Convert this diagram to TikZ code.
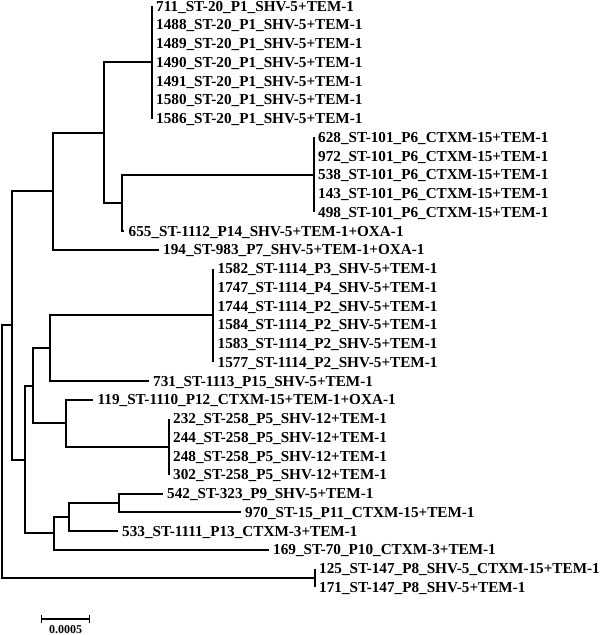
\documentclass[tikz,border=0pt]{standalone}
\usepackage{fontspec}
\setmainfont{Liberation Serif}
\usetikzlibrary{arrows.meta}

\tikzset{
    branch/.style={line width=2pt},
    leaf/.style={anchor=west, inner xsep=4.5pt, inner ysep=0pt, text height=10pt, text depth=0pt,
        font=\fontsize{15.2}{18}\selectfont\bfseries},
}

\begin{document}
\begin{tikzpicture}[x=1pt, y=-1pt]
    \useasboundingbox (0,0) rectangle (600,635);
    \def\rowh{18.75}
    % ST-20 clade (zero-length leaves)
    \foreach \id [count=\i from 0] in {711,1488,1489,1490,1491,1580,1586} {
        \pgfmathsetmacro{\y}{6+\rowh*\i}
        \node[leaf] (s\id) at (151.5,\y) {\id\_ST-20\_P1\_SHV-5+TEM-1};
    }
    % ST-101 clade
    \foreach \id [count=\i from 7] in {628,972,538,143,498} {
        \pgfmathsetmacro{\y}{6+\rowh*\i}
        \node[leaf] (s\id) at (313.5,\y) {\id\_ST-101\_P6\_CTXM-15+TEM-1};
    }
    \node[leaf] (s655) at (124,{6+\rowh*12}) {655\_ST-1112\_P14\_SHV-5+TEM-1+OXA-1};
    \node[leaf] (s194) at (158.5,{6+\rowh*13}) {194\_ST-983\_P7\_SHV-5+TEM-1+OXA-1};
    % ST-1114 clade
    \foreach \id/\p [count=\i from 14] in {1582/3,1747/4,1744/2,1584/2,1583/2,1577/2} {
        \pgfmathsetmacro{\y}{6+\rowh*\i}
        \node[leaf] (s\id) at (213,\y) {\id\_ST-1114\_P\p\_SHV-5+TEM-1};
    }
    \node[leaf] (s731) at (148.5,{6+\rowh*20}) {731\_ST-1113\_P15\_SHV-5+TEM-1};
    \node[leaf] (s119) at (93,{6+\rowh*21}) {119\_ST-1110\_P12\_CTXM-15+TEM-1+OXA-1};
    % ST-258 clade
    \foreach \id [count=\i from 22] in {232,244,248,302} {
        \pgfmathsetmacro{\y}{6+\rowh*\i}
        \node[leaf] (s\id) at (168.5,\y) {\id\_ST-258\_P5\_SHV-12+TEM-1};
    }
    \node[leaf] (s542) at (162.5,{6+\rowh*26}) {542\_ST-323\_P9\_SHV-5+TEM-1};
    \node[leaf] (s970) at (240.5,{6+\rowh*27}) {970\_ST-15\_P11\_CTXM-15+TEM-1};
    \node[leaf] (s533) at (117.5,{6+\rowh*28}) {533\_ST-1111\_P13\_CTXM-3+TEM-1};
    \node[leaf] (s169) at (268.5,{6+\rowh*29}) {169\_ST-70\_P10\_CTXM-3+TEM-1};
    % ST-147 clade
    \node[leaf] (s125) at (314.5,{6+\rowh*30}) {125\_ST-147\_P8\_SHV-5\_CTXM-15+TEM-1};
    \node[leaf] (s171) at (314.5,{6+\rowh*31}) {171\_ST-147\_P8\_SHV-5+TEM-1};

    % Internal nodes
    \coordinate (st20) at (151.5,62.25);
    \coordinate (st101) at (313.5,174.75);
    \coordinate (n655) at (122,202.9);
    \coordinate (n20) at (104,132.6);
    \coordinate (n194) at (53,191.2);
    \coordinate (st1114) at (213,315.4);
    \coordinate (n731) at (50,348.2);
    \coordinate (st258) at (168.5,446.6);
    \coordinate (n119) at (66,423.2);
    \coordinate (n1114) at (33,385.7);
    \coordinate (n542) at (119,502.9);
    \coordinate (n533) at (69,516.9);
    \coordinate (n169) at (54,533.3);
    \coordinate (n1113) at (25,459.5);
    \coordinate (n983) at (12,325.4);
    \coordinate (st147) at (314.5,577.9);
    \coordinate (root) at (2,451.6);

    % Clade bars
    \draw[branch] (s711.west) -- (s1586.west);
    \draw[branch] (s628.west) -- (s498.west);
    \draw[branch] (s1582.west) -- (s1577.west);
    \draw[branch] (s232.west) -- (s302.west);
    \draw[branch] (s125.west) -- (s171.west);
    % Branches
    \draw[branch] (n655) |- (st101);
    \draw[branch] (n655) |- (s655.west);
    \draw[branch] (n20) |- (st20);
    \draw[branch] (n20) |- (n655);
    \draw[branch] (n194) |- (n20);
    \draw[branch] (n194) |- (s194.west);
    \draw[branch] (n731) |- (st1114);
    \draw[branch] (n731) |- (s731.west);
    \draw[branch] (n119) |- (s119.west);
    \draw[branch] (n119) |- (st258);
    \draw[branch] (n1114) |- (n731);
    \draw[branch] (n1114) |- (n119);
    \draw[branch] (n542) |- (s542.west);
    \draw[branch] (n542) |- (s970.west);
    \draw[branch] (n533) |- (n542);
    \draw[branch] (n533) |- (s533.west);
    \draw[branch] (n169) |- (n533);
    \draw[branch] (n169) |- (s169.west);
    \draw[branch] (n1113) |- (n1114);
    \draw[branch] (n1113) |- (n169);
    \draw[branch] (n983) |- (n194);
    \draw[branch] (n983) |- (n1113);
    \draw[branch] (root) |- (n983);
    \draw[branch] (root) |- (st147);

    % Scale bar
    \coordinate (sb0) at (41,619);
    \coordinate (sb1) at (90,619);
    \draw[line width=1.4pt, {Bar[width=8pt]}-{Bar[width=8pt]}] (sb0) -- (sb1);
    \node[font=\fontsize{12}{14}\selectfont\bfseries] (sblabel) at (65.5,629.5) {0.0005};
\end{tikzpicture}
\end{document}
